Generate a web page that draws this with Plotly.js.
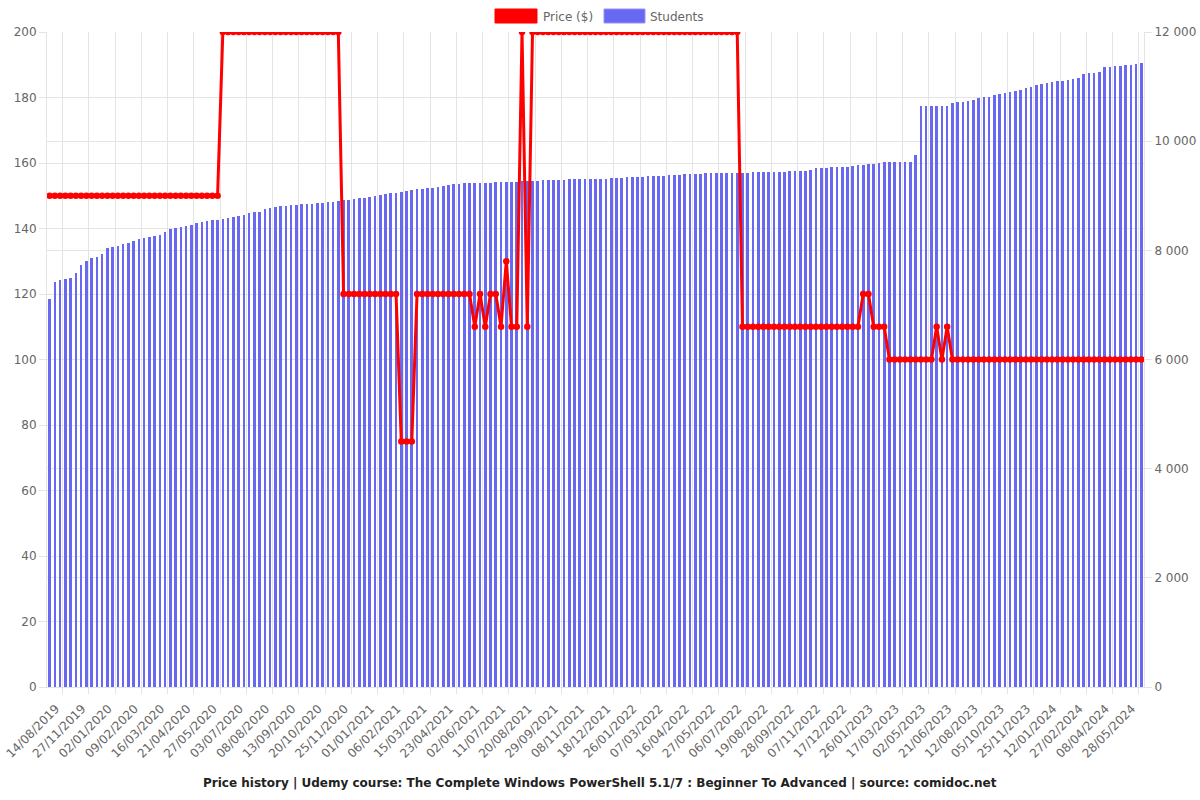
<!DOCTYPE html>
<html>
<head>
<meta charset="utf-8">
<script src="https://cdn.plot.ly/plotly-3.0.1.min.js"></script>
<style>
  html, body { margin: 0; padding: 0; background: #fff; }
  #chart { width: 1200px; height: 800px; }
</style>
</head>
<body>
<div id="chart"></div>
<script>
// ---- Data ----
const tickLabels = [
  "14/08/2019","27/11/2019","02/01/2020","09/02/2020","16/03/2020","21/04/2020",
  "27/05/2020","03/07/2020","08/08/2020","13/09/2020","20/10/2020","25/11/2020",
  "01/01/2021","06/02/2021","15/03/2021","23/04/2021","02/06/2021","11/07/2021",
  "20/08/2021","29/09/2021","08/11/2021","18/12/2021","26/01/2022","07/03/2022",
  "16/04/2022","27/05/2022","06/07/2022","19/08/2022","28/09/2022","07/11/2022",
  "17/12/2022","26/01/2023","17/03/2023","02/05/2023","21/06/2023","12/08/2023",
  "05/10/2023","25/11/2023","12/01/2024","27/02/2024","08/04/2024","28/05/2024"
];

const price = [
  150,150,150,150,150,150,150,150,150,150,
  150,150,150,150,150,150,150,150,150,150,
  150,150,150,150,150,150,150,150,150,150,
  150,150,150,200,200,200,200,200,200,200,
  200,200,200,200,200,200,200,200,200,200,
  200,200,200,200,200,200,120,120,120,120,
  120,120,120,120,120,120,120,75,75,75,
  120,120,120,120,120,120,120,120,120,120,
  120,110,120,110,120,120,110,130,110,110,
  200,110,200,200,200,200,200,200,200,200,
  200,200,200,200,200,200,200,200,200,200,
  200,200,200,200,200,200,200,200,200,200,
  200,200,200,200,200,200,200,200,200,200,
  200,200,110,110,110,110,110,110,110,110,
  110,110,110,110,110,110,110,110,110,110,
  110,110,110,110,110,120,120,110,110,110,
  100,100,100,100,100,100,100,100,100,110,
  100,110,100,100,100,100,100,100,100,100,
  100,100,100,100,100,100,100,100,100,100,
  100,100,100,100,100,100,100,100,100,100,
  100,100,100,100,100,100,100,100,100
];

const students = [
  7100,7425,7455,7475,7500,7580,7730,7810,7855,7885,
  7925,8035,8065,8085,8110,8140,8170,8200,8220,8240,
  8260,8280,8330,8385,8410,8425,8445,8470,8500,8525,
  8545,8550,8560,8580,8600,8610,8630,8655,8680,8695,
  8710,8750,8770,8800,8810,8820,8825,8830,8843,8850,
  8858,8866,8875,8883,8891,8900,8915,8930,8940,8955,
  8968,8983,8995,9010,9025,9044,9055,9070,9085,9105,
  9115,9125,9135,9140,9155,9175,9195,9210,9220,9227,
  9232,9236,9238,9240,9242,9244,9245,9250,9255,9260,
  9265,9270,9275,9278,9282,9285,9288,9292,9295,9298,
  9300,9302,9304,9306,9308,9310,9315,9320,9325,9330,
  9335,9340,9345,9350,9355,9360,9365,9370,9375,9380,
  9385,9390,9395,9400,9405,9410,9412,9414,9416,9418,
  9420,9422,9424,9426,9428,9430,9432,9435,9438,9440,
  9442,9445,9448,9453,9460,9480,9500,9508,9512,9518,
  9522,9526,9535,9545,9560,9570,9580,9590,9600,9612,
  9612,9612,9614,9614,9615,9746,10638,10638,10638,10638,
  10640,10640,10693,10711,10723,10735,10748,10785,10809,10815,
  10846,10860,10880,10900,10920,10940,10970,11000,11028,11045,
  11060,11083,11095,11105,11120,11140,11157,11230,11240,11250,
  11267,11358,11365,11377,11385,11390,11395,11410,11430
];

const seriesNames = ["Price ($)", "Students"];
const titleText = "Price history | Udemy course: The Complete Windows PowerShell 5.1/7 : Beginner To Advanced | source: comidoc.net";

// ---- Styles ----
const RED = "#ff0000";
const BLUE = "rgb(104,104,240)";
const GRID = "#e4e4e4";
const FONT = "DejaVu Sans, Verdana, sans-serif";

const xIdx = students.map((_, i) => i);
// labels sit slightly left of their grid line, as in the reference
const tickPos = tickLabels.map((_, i) => 1.2 + 5 * i);

const traces = [
  {
    type: "bar",
    name: seriesNames[1],
    x: xIdx,
    y: students,
    yaxis: "y",
    width: 0.5,
    marker: { color: BLUE, line: { width: 0 } },
    showlegend: false,
    hoverinfo: "y"
  },
  {
    type: "scatter",
    mode: "lines+markers",
    name: seriesNames[0],
    x: xIdx,
    y: price,
    yaxis: "y2",
    line: { color: RED, width: 3 },
    marker: { color: RED, size: 6.5 },
    showlegend: false,
    hoverinfo: "y"
  }
];

const W = 1200, H = 800, L = 47, R = 56, T = 32, B = 113;
const pw = W - L - R, ph = H - T - B;
const px = v => (v - L) / pw;
const py = v => (H - B - v) / ph;

const tf = { family: FONT, size: 12, color: "#666" };

const layout = {
  width: W, height: H,
  margin: { l: L, r: R, t: T, b: B, pad: 0 },
  paper_bgcolor: "#fff",
  plot_bgcolor: "#fff",
  font: tf,
  separators: ". ",
  showlegend: false,
  bargap: 0,
  xaxis: {
    type: "linear",
    range: [-0.5, 208.5],
    tickmode: "array",
    tickvals: tickPos,
    ticktext: tickLabels,
    tickangle: -45,
    showgrid: false,
    ticks: "outside",
    ticklen: 9,
    tickcolor: "rgba(0,0,0,0)",
    showline: true,
    linecolor: GRID,
    zeroline: false,
    tickfont: tf,
    minor: {
      tick0: 2.5, dtick: 5,
      showgrid: true, gridcolor: GRID, gridwidth: 1,
      ticks: "outside", ticklen: 6, tickcolor: GRID
    }
  },
  yaxis: {
    side: "right",
    range: [0, 12000],
    dtick: 2000,
    tick0: 0,
    tickformat: ",d",
    separatethousands: true,
    showgrid: true,
    gridcolor: GRID,
    ticks: "outside",
    ticklen: 7,
    tickcolor: GRID,
    showline: true,
    linecolor: GRID,
    zeroline: false,
    tickfont: tf
  },
  yaxis2: {
    overlaying: "y",
    side: "left",
    range: [0, 200],
    dtick: 20,
    tick0: 0,
    showgrid: true,
    gridcolor: GRID,
    ticks: "outside",
    ticklen: 7,
    tickcolor: GRID,
    showline: true,
    linecolor: GRID,
    zeroline: false,
    tickfont: tf
  },
  shapes: [
    { type: "rect", xref: "paper", yref: "paper",
      x0: px(495), x1: px(537), y0: py(23), y1: py(9),
      fillcolor: RED, line: { color: RED, width: 1 } },
    { type: "rect", xref: "paper", yref: "paper",
      x0: px(604), x1: px(645), y0: py(23), y1: py(9),
      fillcolor: BLUE, line: { color: "rgb(150,150,245)", width: 1 } }
  ],
  annotations: [
    { xref: "paper", yref: "paper", x: px(541), y: py(16.5),
      xanchor: "left", yanchor: "middle", showarrow: false,
      text: seriesNames[0], font: tf },
    { xref: "paper", yref: "paper", x: px(648), y: py(16.5),
      xanchor: "left", yanchor: "middle", showarrow: false,
      text: seriesNames[1], font: tf },
    { xref: "paper", yref: "paper", x: px(600), y: py(783),
      xanchor: "center", yanchor: "middle", showarrow: false,
      text: "<b>" + titleText + "</b>",
      font: { family: FONT, size: 12, color: "#222" } }
  ]
};

Plotly.newPlot("chart", traces, layout, { displayModeBar: false, staticPlot: true });
</script>
</body>
</html>
